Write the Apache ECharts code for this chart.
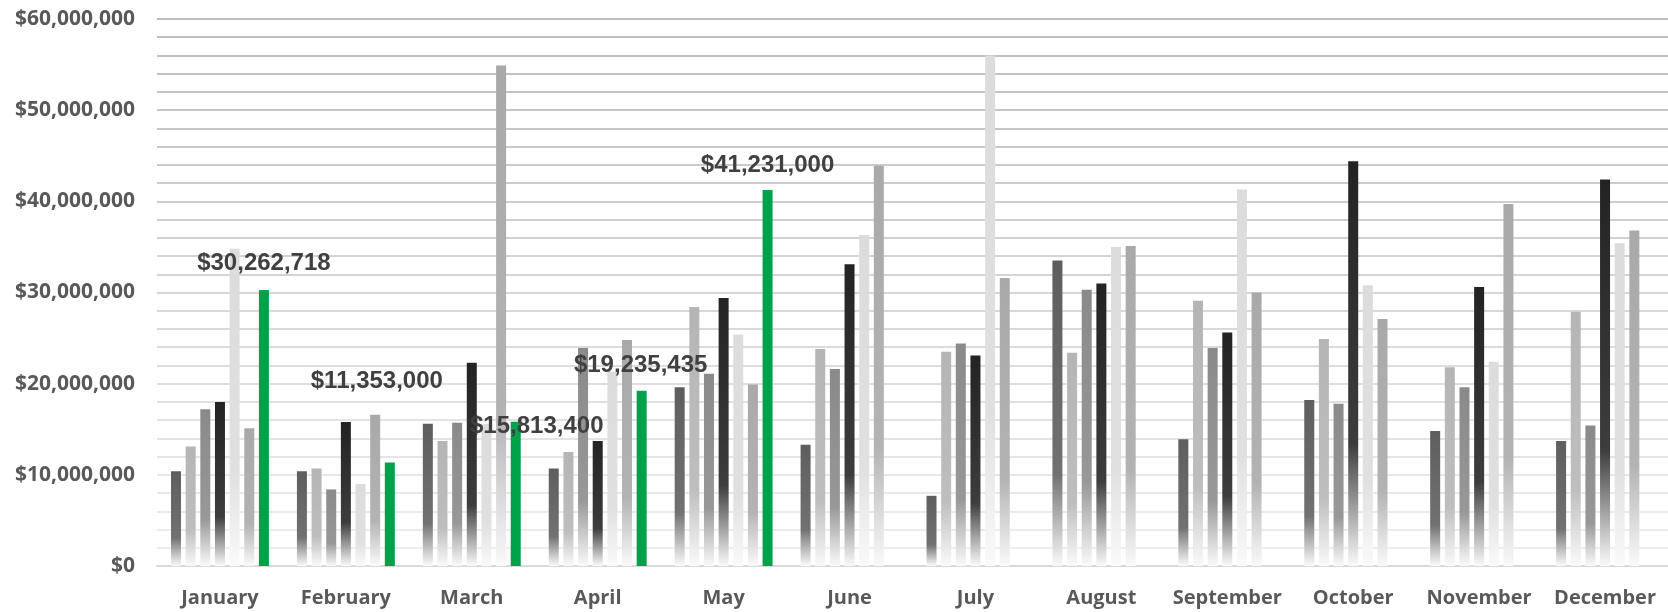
<!DOCTYPE html>
<html>
<head>
<meta charset="utf-8">
<title>Monthly totals</title>
<script src="https://cdn.jsdelivr.net/npm/echarts@6/dist/echarts.min.js"></script>
<style>
  html, body { margin: 0; padding: 0; background: #fff; }
  #chart { width: 1668px; height: 612px; }
</style>
</head>
<body>
<div id="chart"></div>
<script>
// months on the x axis
var months = ['January', 'February', 'March', 'April', 'May', 'June',
  'July', 'August', 'September', 'October', 'November', 'December'];

// one array per year (dollars)
var year1 = [10400000, 10400000, 15600000, 10700000, 19600000, 13300000, 7700000, 33500000, 13900000, 18200000, 14800000, 13700000];
var year2 = [13100000, 10700000, 13700000, 12500000, 28400000, 23800000, 23500000, 23400000, 29100000, 24900000, 21800000, 27900000];
var year3 = [17200000, 8400000, 15700000, 23900000, 21100000, 21600000, 24400000, 30300000, 23900000, 17800000, 19600000, 15400000];
var year4 = [18000000, 15800000, 22300000, 13700000, 29400000, 33100000, 23100000, 31000000, 25600000, 44400000, 30600000, 42400000];
var year5 = [34800000, 9000000, 15600000, 21300000, 25400000, 36300000, 56000000, 35000000, 41300000, 30800000, 22400000, 35400000];
var year6 = [15100000, 16600000, 54900000, 24800000, 19900000, 43900000, 31600000, 35100000, 30000000, 27100000, 39700000, 36800000];
// current year, only Jan - May so far
var current = [30262718, 11353000, 15813400, 19235435, 41231000, null, null, null, null, null, null, null];

// y axis ticks (only every 10M gets a label)
var yMin = 0, yMax = 60000000, yStep = 2000000, yLabelStep = 10000000;

var greyColors = ['#5e5e5e', '#b5b5b5', '#8a8a8a', '#232323', '#dcdcdc', '#a9a9a9'];
var greenColor = '#00a14b';
// label nudges for the current-year values [dx, dy from bar top]
var labelNudge = [[0, -27], [-13, -81], [21, 5], [-1, -25], [0, -25]];

function lighten(hex, t) {
  var n = parseInt(hex.slice(1), 16);
  var r = (n >> 16) & 255, g = (n >> 8) & 255, b = n & 255;
  r = Math.round(r + (255 - r) * t);
  g = Math.round(g + (255 - g) * t);
  b = Math.round(b + (255 - b) * t);
  return 'rgb(' + r + ',' + g + ',' + b + ')';
}

function fadeFill(hex) {
  return new echarts.graphic.LinearGradient(0, 0, 0, 1, [
    { offset: 0, color: hex },
    { offset: 0.7, color: lighten(hex, 0.12) },
    { offset: 1, color: '#fafafa' }
  ]);
}

// grid lines go from light at the bottom to darker at the top
var gridColors = [];
var nLines = (yMax - yMin) / yStep + 1;
for (var i = 0; i < nLines; i++) {
  var c = Math.round(239 - (239 - 189) * i / (nLines - 1));
  gridColors.push('rgb(' + c + ',' + c + ',' + c + ')');
}

var axisFont = '"Open Sans", Lato, sans-serif';

var chart = echarts.init(document.getElementById('chart'), null, { renderer: 'canvas' });

var series = [];
[year1, year2, year3, year4, year5, year6].forEach(function (d, k) {
  series.push({
    name: 'Year ' + (k + 1),
    type: 'bar',
    data: d,
    barWidth: 10,
    barGap: '46.5%',
    itemStyle: { color: fadeFill(greyColors[k]) },
    silent: true
  });
});

series.push({
  name: 'Current',
  type: 'bar',
  data: current.map(function (v, idx) {
    if (v == null) return null;
    var nudge = labelNudge[idx] || [0, -20];
    return {
      value: v,
      label: { position: ['50%', nudge[1]], offset: [nudge[0], 0] }
    };
  }),
  barWidth: 10,
  barGap: '46.5%',
  itemStyle: { color: greenColor },
  label: {
    show: true,
    align: 'center',
    verticalAlign: 'middle',
    fontFamily: '"Liberation Sans", Arial, sans-serif',
    fontWeight: 'bold',
    fontSize: 24,
    color: '#404040',
    formatter: function (p) {
      return '$' + p.value.toLocaleString('en-US');
    }
  },
  silent: true,
  z: 3
});

var option = {
  animation: false,
  backgroundColor: '#ffffff',
  grid: {
    left: 157,
    top: 19,
    width: 1521,
    height: 547,
    containLabel: false
  },
  xAxis: {
    type: 'category',
    data: months,
    axisTick: { show: false },
    axisLine: { lineStyle: { color: '#d9d9d9', width: 2 } },
    axisLabel: {
      interval: 0,
      margin: 22,
      color: '#595959',
      fontFamily: axisFont,
      fontWeight: 'bold',
      fontSize: 20
    }
  },
  yAxis: {
    type: 'value',
    min: yMin,
    max: yMax,
    interval: yStep,
    axisLine: { show: false },
    axisTick: { show: false },
    splitLine: { lineStyle: { color: gridColors, width: 2 } },
    axisLabel: {
      margin: 22,
      color: '#595959',
      fontFamily: axisFont,
      fontWeight: 'bold',
      fontSize: 21,
      formatter: function (v) {
        if (v % yLabelStep !== 0) return '';
        return '$' + v.toLocaleString('en-US');
      }
    }
  },
  series: series
};

chart.setOption(option);
</script>
</body>
</html>
